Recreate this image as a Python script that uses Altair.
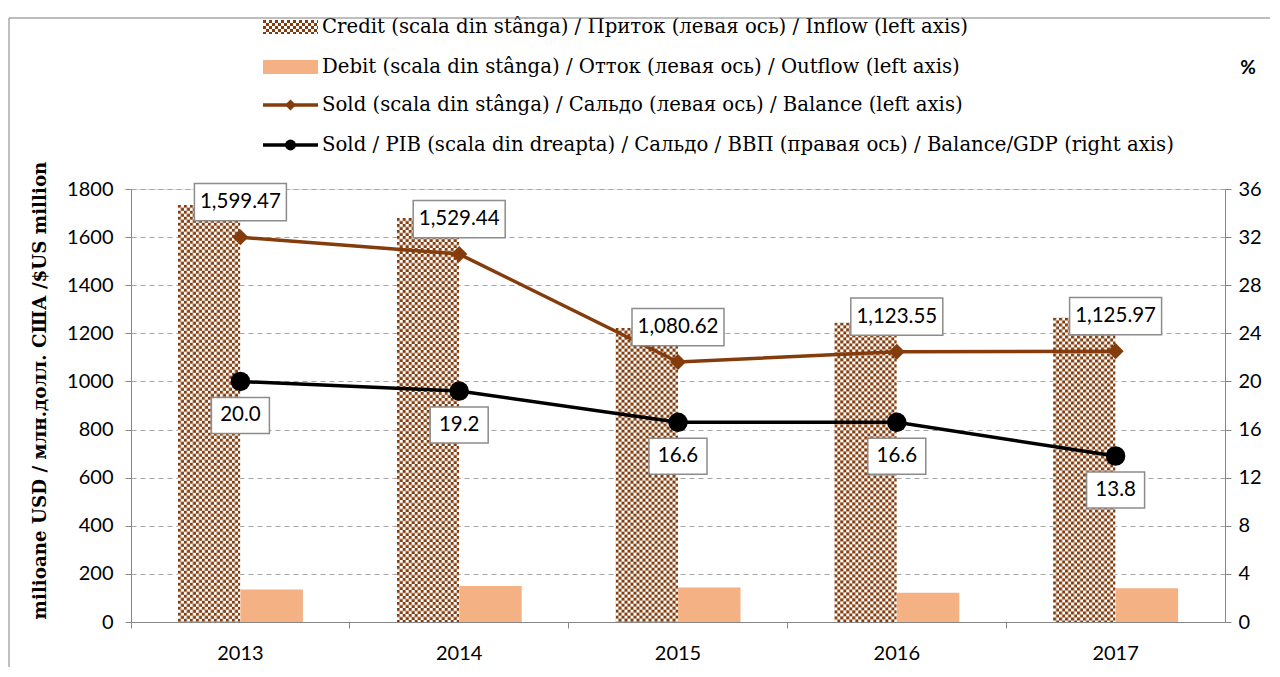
import altair as alt
import pandas as pd
from urllib.parse import quote

# ---------------- data ----------------
years = ["2013", "2014", "2015", "2016", "2017"]
credit = [1734.5, 1679.4, 1223.6, 1245.5, 1266.0]
debit = [135.0, 150.0, 143.0, 122.0, 140.0]
balance = [1599.47, 1529.44, 1080.62, 1123.55, 1125.97]
balance_gdp = [20.0, 19.2, 16.6, 16.6, 13.8]
left_ticks = [0, 200, 400, 600, 800, 1000, 1200, 1400, 1600, 1800]
right_ticks = [0, 4, 8, 12, 16, 20, 24, 28, 32, 36]
series = ["Credit", "Debit"]
legend_labels = [
    "Credit (scala din stânga) / Приток (левая ось) / Inflow (left axis)",
    "Debit (scala din stânga)  / Отток (левая ось)  / Outflow (left axis)",
    "Sold (scala din stânga) / Сальдо (левая ось) / Balance (left axis)",
    "Sold / PIB (scala din dreapta) / Сальдо / ВВП (правая ось) / Balance/GDP (right axis)",
]
y_title = "milioane USD / млн.долл. США /$US million"
pct_label = "%"

# ---------------- style ----------------
BROWN = "#843C0C"
PEACH = "#F4B183"
GRAY = "#868686"
W, H = 1094, 433
SANS = "Lato"
SERIF = "DejaVu Serif"

checker_svg = (
    "<svg xmlns='http://www.w3.org/2000/svg' width='100%' height='100%'>"
    "<defs><pattern id='c' width='6' height='6' patternUnits='userSpaceOnUse'>"
    "<rect width='6' height='6' fill='#ffffff'/>"
    f"<rect width='3' height='3' fill='{BROWN}'/>"
    f"<rect x='3' y='3' width='3' height='3' fill='{BROWN}'/>"
    "</pattern></defs><rect width='100%' height='100%' fill='url(#c)'/></svg>"
)
checker_url = "data:image/svg+xml;charset=utf-8," + quote(checker_svg)

df = pd.DataFrame({
    "year": years,
    "credit": credit,
    "debit": debit,
    "balance": balance,
    "gdp": balance_gdp,
})

x_axis = alt.Axis(
    title=None, labelAngle=0, bandPosition=0,
    domainColor=GRAY, tickColor=GRAY, tickSize=6,
    labelFont=SANS, labelFontSize=20, labelColor="black", labelPadding=15,
)
x_enc = alt.X("year:N", scale=alt.Scale(paddingInner=0, paddingOuter=0), axis=x_axis)
xoff_scale = alt.Scale(domain=series, paddingInner=0, paddingOuter=0.75)

left_axis = alt.Axis(
    values=left_ticks, format="d", grid=True, gridDash=[5, 4], gridColor="#A6A6A6",
    domainColor=GRAY, tickColor=GRAY, tickSize=6,
    labelFont=SANS, labelFontSize=20, labelColor="black", labelPadding=12,
    title=y_title, titleFont=SERIF, titleFontSize=18.3, titleFontWeight="bold",
    titleColor="black", titleX=-91, titleY=201, titleAngle=270,
    titleAlign="center", titleBaseline="middle",
)
yl_scale = alt.Scale(domain=[0, 1800], nice=False)

right_axis = alt.Axis(
    values=right_ticks, grid=False, orient="right",
    domainColor=GRAY, tickColor=GRAY, tickSize=6,
    labelFont=SANS, labelFontSize=20, labelColor="black", labelPadding=7,
    title=None,
)
yr_scale = alt.Scale(domain=[0, 36], nice=False)

base = alt.Chart(df)

credit_img = base.transform_calculate(s="'Credit'").mark_image(aspect=False).encode(
    x=x_enc,
    xOffset=alt.XOffset("s:N", scale=xoff_scale),
    y=alt.Y("credit:Q", scale=yl_scale, axis=left_axis),
    y2=alt.Y2(datum=0),
    url=alt.value(checker_url),
)
debit_bar = base.transform_calculate(s="'Debit'").mark_bar(color=PEACH).encode(
    x=x_enc,
    xOffset=alt.XOffset("s:N", scale=xoff_scale),
    y=alt.Y("debit:Q", scale=yl_scale, axis=left_axis),
)
sold_line = base.mark_line(color=BROWN, strokeWidth=3.5).encode(
    x=x_enc, y=alt.Y("balance:Q", scale=yl_scale, axis=left_axis))
sold_pts = base.mark_point(shape="diamond", filled=True, size=260, color=BROWN, opacity=1).encode(
    x=x_enc, y=alt.Y("balance:Q", scale=yl_scale, axis=left_axis))
sold_box = base.mark_point(
    shape="M-1,-0.405L1,-0.405L1,0.405L-1,0.405Z", size=8464, filled=True,
    fill="white", stroke="#8C8C8C", strokeWidth=1.5, opacity=1, yOffset=-35,
).encode(x=x_enc, y=alt.Y("balance:Q", scale=yl_scale, axis=left_axis))
sold_txt = base.mark_text(font=SANS, fontSize=20.5, color="black", dy=-35, baseline="middle").encode(
    x=x_enc, y=alt.Y("balance:Q", scale=yl_scale, axis=left_axis),
    text=alt.Text("balance:Q", format=",.2f"))

left = alt.layer(credit_img, debit_bar, sold_line, sold_pts, sold_box, sold_txt)

gdp_line = base.mark_line(color="black", strokeWidth=3.5).encode(
    x=x_enc, y=alt.Y("gdp:Q", scale=yr_scale, axis=right_axis))
gdp_pts = base.mark_point(shape="circle", filled=True, size=380, color="black", opacity=1).encode(
    x=x_enc, y=alt.Y("gdp:Q", scale=yr_scale, axis=right_axis))
gdp_box = base.mark_point(
    shape="M-1,-0.62L1,-0.62L1,0.62L-1,0.62Z", size=3364, filled=True,
    fill="white", stroke="#8C8C8C", strokeWidth=1.5, opacity=1, yOffset=34,
).encode(x=x_enc, y=alt.Y("gdp:Q", scale=yr_scale, axis=right_axis))
gdp_txt = base.mark_text(font=SANS, fontSize=20.5, color="black", dy=34, baseline="middle").encode(
    x=x_enc, y=alt.Y("gdp:Q", scale=yr_scale, axis=right_axis),
    text=alt.Text("gdp:Q", format=".1f"))

right = alt.layer(gdp_line, gdp_pts, gdp_box, gdp_txt)

# ---------------- manual legend (above the plot) ----------------
one = alt.Data(values=[{"k": 0}])
leg_rows = [-162, -122, -84, -44]
sw_x0, sw_x1, txt_x = 132, 187, 191
leg_layers = []
leg_layers.append(alt.Chart(one).mark_image(aspect=False).encode(
    x=alt.value(sw_x0), x2=alt.value(sw_x1),
    y=alt.value(leg_rows[0] - 7), y2=alt.value(leg_rows[0] + 7),
    url=alt.value(checker_url)))
leg_layers.append(alt.Chart(one).mark_rect(color=PEACH).encode(
    x=alt.value(sw_x0), x2=alt.value(sw_x1),
    y=alt.value(leg_rows[1] - 7), y2=alt.value(leg_rows[1] + 7)))
leg_layers.append(alt.Chart(one).mark_rule(color=BROWN, strokeWidth=3.5).encode(
    x=alt.value(sw_x0), x2=alt.value(sw_x1), y=alt.value(leg_rows[2])))
leg_layers.append(alt.Chart(one).mark_point(shape="diamond", filled=True, size=120, color=BROWN, opacity=1).encode(
    x=alt.value((sw_x0 + sw_x1) / 2), y=alt.value(leg_rows[2])))
leg_layers.append(alt.Chart(one).mark_rule(color="black", strokeWidth=3.5).encode(
    x=alt.value(sw_x0), x2=alt.value(sw_x1), y=alt.value(leg_rows[3])))
leg_layers.append(alt.Chart(one).mark_point(shape="circle", filled=True, size=120, color="black", opacity=1).encode(
    x=alt.value((sw_x0 + sw_x1) / 2), y=alt.value(leg_rows[3])))
for lab, ry in zip(legend_labels, leg_rows):
    leg_layers.append(alt.Chart(one).mark_text(
        font=SERIF, fontSize=19.7, color="black", align="left", baseline="middle").encode(
        x=alt.value(txt_x), y=alt.value(ry), text=alt.value(lab)))
leg_layers.append(alt.Chart(one).mark_text(
    font=SANS, fontSize=19, fontWeight="bold", color="black", align="center", baseline="middle").encode(
    x=alt.value(1117), y=alt.value(-121), text=alt.value(pct_label)))
# chart-area frame (top and left edges)
leg_layers.append(alt.Chart(one).mark_rule(color="#7F7F7F", strokeWidth=1).encode(
    x=alt.value(-122), x2=alt.value(W + 60), y=alt.value(-171)))
leg_layers.append(alt.Chart(one).mark_rule(color="#7F7F7F", strokeWidth=1).encode(
    x=alt.value(-122), y=alt.value(-171), y2=alt.value(H + 60)))

chart = alt.layer(left, right, *leg_layers).resolve_scale(y="independent").properties(
    width=W, height=H,
    padding={"left": 123, "top": 181, "right": 45, "bottom": 45},
    autosize=alt.AutoSizeParams(type="none"),
).configure_view(stroke=None).configure(background="white")

chart.save("out.html", embed_options={"renderer": "svg", "actions": False})
